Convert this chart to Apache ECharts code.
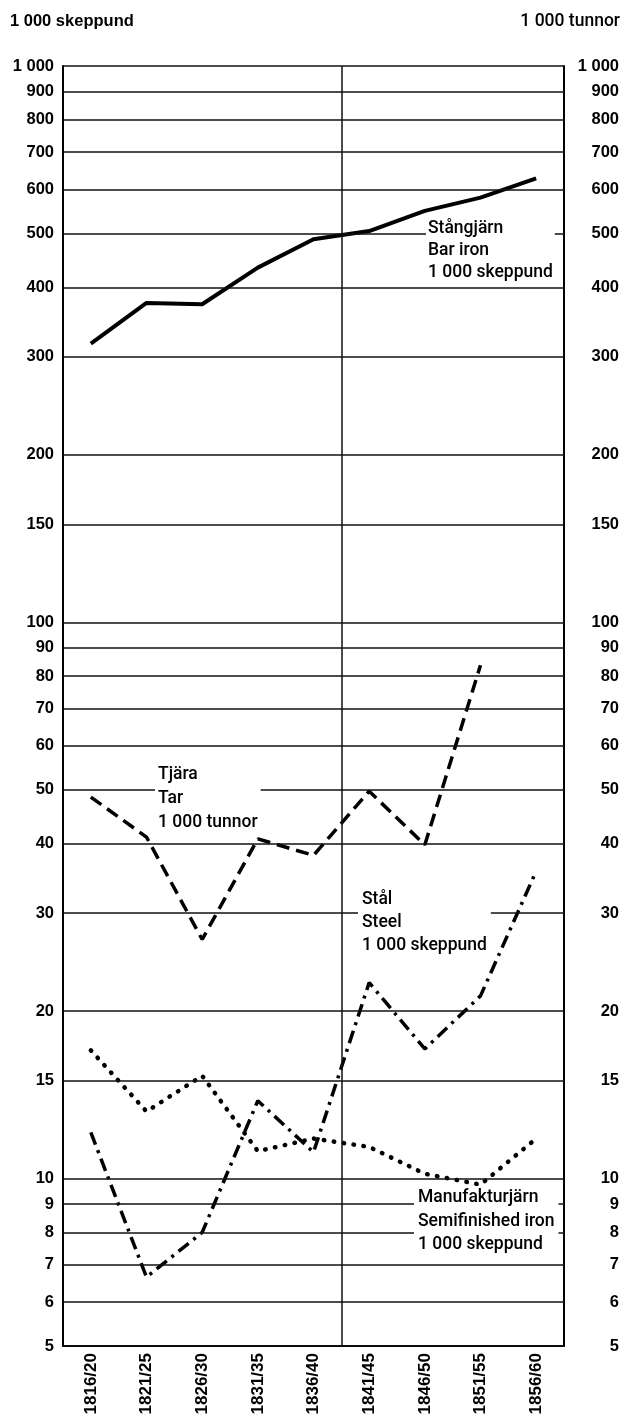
<!DOCTYPE html>
<html lang="sv">
<head>
<meta charset="UTF-8">
<title>Stångjärn, tjära, stål, manufakturjärn</title>
<script src="https://cdn.jsdelivr.net/npm/echarts@6/dist/echarts.min.js"></script>
<style>html,body{margin:0;padding:0;background:#fff}</style>
</head>
<body>
<div id="chart" style="width:627px;height:1422px"></div>
<script>
// femårsperioder
var periods = ['1816/20', '1821/25', '1826/30', '1831/35', '1836/40', '1841/45', '1846/50', '1851/55', '1856/60'];
// 1 000 skeppund
var barIron = [317, 375, 373, 434, 488, 505, 549, 580, 628];
// 1 000 tunnor
var tar = [48.5, 41.1, 26.9, 40.8, 38.1, 49.7, 39.8, 83.7, null];
// 1 000 skeppund
var steel = [12.1, 6.65, 8.0, 13.8, 11.15, 22.5, 17.1, 21.3, 35.7];
// 1 000 skeppund
var semiIron = [17.0, 13.2, 15.3, 11.2, 11.8, 11.4, 10.2, 9.75, 11.8];
// stödlinjer och axeltal
var gridValues = [5, 6, 7, 8, 9, 10, 15, 20, 30, 40, 50, 60, 70, 80, 90, 100, 150, 200, 300, 400, 500, 600, 700, 800, 900, 1000];
// skiljelinje mellan 1836/40 och 1841/45
var dividerAt = 4.5;

var font = 'Liberation Sans, Arial, sans-serif';
var noteFont = 'Roboto, Liberation Sans, sans-serif';

function fmt(v) {
    v = Math.round(v);
    return v >= 1000 ? '1 000' : String(v);
}

function yAxis(pos) {
    return {
        type: 'log',
        logBase: 10,
        position: pos,
        min: 5,
        max: 1000,
        axisLine: { show: true, onZero: false, lineStyle: { color: '#000', width: 2 } },
        axisTick: { show: false },
        splitLine: { show: false },
        axisLabel: {
            customValues: gridValues,
            formatter: fmt,
            color: '#000',
            fontFamily: font,
            fontWeight: 'bold',
            fontSize: 16.5,
            align: 'right',
            margin: pos === 'left' ? 9 : 55
        }
    };
}

function note(text, x, y, lh, pad) {
    return {
        type: 'text',
        z: 100,
        x: x,
        y: y,
        style: {
            text: text,
            fill: '#000',
            font: '500 17.5px ' + noteFont,
            lineHeight: lh,
            backgroundColor: '#fff',
            padding: pad,
            textVerticalAlign: 'top'
        }
    };
}

var chart = echarts.init(document.getElementById('chart'));

var option = {
    backgroundColor: '#fff',
    animation: false,
    title: [
        { text: '1 000 skeppund', left: 5, top: 8,
          textStyle: { fontFamily: font, fontWeight: 'bold', fontSize: 16.5, color: '#000' } },
        { text: '1 000 tunnor', right: 2, top: 8,
          textStyle: { fontFamily: noteFont, fontWeight: 500, fontSize: 17.5, color: '#000' } }
    ],
    grid: { left: 63, right: 63, top: 66, bottom: 76 },
    xAxis: [
        {
            type: 'category',
            data: periods,
            boundaryGap: true,
            axisLine: { onZero: false, lineStyle: { color: '#000', width: 2 } },
            axisTick: { inside: true, alignWithLabel: true, length: 11, lineStyle: { color: '#000', width: 2 } },
            axisLabel: { rotate: 90, margin: 7, color: '#000', fontFamily: font, fontWeight: 'bold', fontSize: 17 },
            splitLine: { show: false }
        },
        {
            // dold axel som bara används för skiljelinjen
            type: 'value',
            show: false,
            min: -0.5,
            max: periods.length - 0.5
        }
    ],
    yAxis: [yAxis('left'), yAxis('right')],
    series: [
        {
            name: 'grid',
            type: 'line',
            xAxisIndex: 1,
            data: [],
            silent: true,
            z: 1,
            markLine: {
                silent: true,
                symbol: 'none',
                label: { show: false },
                lineStyle: { color: '#111', width: 1.5, type: 'solid' },
                data: gridValues.map(function (v) { return { yAxis: v }; })
                    .concat([{ xAxis: dividerAt }])
            }
        },
        {
            name: 'Stångjärn',
            type: 'line',
            data: barIron,
            symbol: 'none',
            z: 3,
            lineStyle: { color: '#000', width: 4, join: 'round' }
        },
        {
            name: 'Tjära',
            type: 'line',
            data: tar,
            symbol: 'none',
            z: 3,
            lineStyle: { color: '#000', width: 3.5, type: [13, 7] }
        },
        {
            name: 'Stål',
            type: 'line',
            data: steel,
            symbol: 'none',
            z: 3,
            lineStyle: { color: '#000', width: 3.5, type: [13, 6, 3, 6] }
        },
        {
            name: 'Manufakturjärn',
            type: 'line',
            data: semiIron,
            symbol: 'none',
            z: 3,
            lineStyle: { color: '#000', width: 4.5, type: [0.5, 9.5], cap: 'round' }
        }
    ],
    graphic: [
        note('Stångjärn\nBar iron\n1 000 skeppund', 426, 218, 22, [0, 2, 0, 2]),
        note('Tjära\nTar\n1 000 tunnor', 155, 763, 24, [0, 3, 0, 3]),
        note('Stål\nSteel\n1 000 skeppund', 358, 888, 23, [0, 4, 0, 4]),
        note('Manufakturjärn\nSemifinished iron\n1 000 skeppund', 414, 1186, 23.5, [0, 4, 0, 4])
    ]
};

chart.setOption(option);
</script>
</body>
</html>
